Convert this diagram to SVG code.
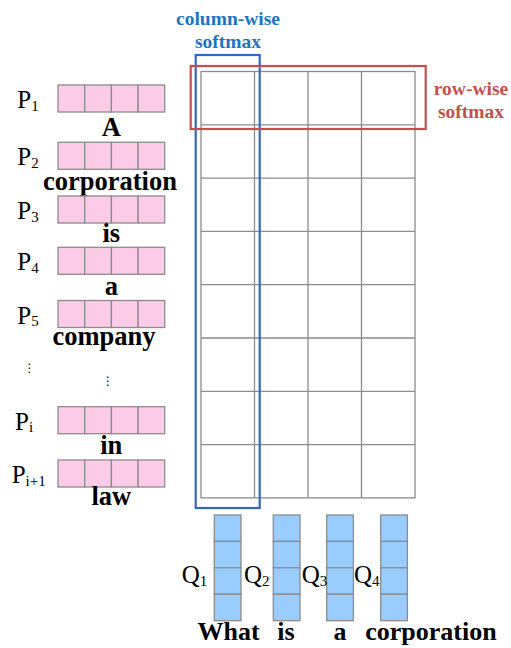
<svg xmlns="http://www.w3.org/2000/svg" width="511" height="648" viewBox="0 0 511 648">
<style>
.pc{fill:#fccbe8;stroke:#8c8c8c;stroke-width:1.3}
.qc{fill:#99ccff;stroke:#8c8c8c;stroke-width:1.3}
.g{fill:none;stroke:#8c8c8c;stroke-width:1.3}
.lbl{font-family:"Liberation Serif","Times New Roman",serif;font-size:25px;fill:#000}
.sub{font-size:15px}
.w{font-family:"Liberation Serif","Times New Roman",serif;font-size:26.5px;font-weight:bold;fill:#000;text-anchor:middle}
.wb{font-family:"Liberation Serif","Times New Roman",serif;font-size:26px;font-weight:bold;fill:#000;text-anchor:middle}
.leg{font-family:"Liberation Serif","Times New Roman",serif;font-size:19.5px;font-weight:bold;text-anchor:middle}
.dots{font-family:"DejaVu Sans",sans-serif;font-size:12px;fill:#000;text-anchor:middle}
</style>
<defs>
<g id="pv">
<rect class="pc" x="0" y="0" width="26.7" height="27"/>
<rect class="pc" x="26.7" y="0" width="26.7" height="27"/>
<rect class="pc" x="53.4" y="0" width="26.7" height="27"/>
<rect class="pc" x="80.1" y="0" width="26.6" height="27"/>
</g>
<g id="qv">
<rect class="qc" x="0" y="0" width="26.7" height="26.4"/>
<rect class="qc" x="0" y="26.4" width="26.7" height="26.4"/>
<rect class="qc" x="0" y="52.8" width="26.7" height="26.4"/>
<rect class="qc" x="0" y="79.2" width="26.7" height="26.5"/>
</g>
</defs>

<g id="grid">
<rect class="g" x="201" y="71.5" width="214" height="426.4"/>
<path class="g" d="M254.5 71.5V497.9M308 71.5V497.9M361.5 71.5V497.9M201 124.8H415M201 178.1H415M201 231.4H415M201 284.7H415M201 338H415M201 391.3H415M201 444.6H415"/>
</g>

<g id="col-softmax">
<rect x="195.7" y="55" width="64" height="453" fill="none" stroke="#3366cc" stroke-width="2.2"/>
<text class="leg" x="228" y="25" fill="#1c75c2">column-wise</text>
<text class="leg" x="228" y="48.3" fill="#1c75c2">softmax</text>
</g>

<g id="row-softmax">
<rect x="190.7" y="66" width="235" height="63" fill="none" stroke="#c4504c" stroke-width="2.2"/>
<text class="leg" x="471" y="95" fill="#c4504c">row-wise</text>
<text class="leg" x="471" y="118.3" fill="#c4504c">softmax</text>
</g>

<g id="p1"><use href="#pv" x="58" y="85"/><text class="lbl" x="17.3" y="108">P<tspan class="sub" dy="2.5">1</tspan></text><text class="w" x="111.3" y="136">A</text></g>
<g id="p2"><use href="#pv" x="58" y="142.3"/><text class="lbl" x="17.3" y="165.3">P<tspan class="sub" dy="2.5">2</tspan></text><text class="w" x="110" y="190">corporation</text></g>
<g id="p3"><use href="#pv" x="58" y="196"/><text class="lbl" x="17.3" y="219">P<tspan class="sub" dy="2.5">3</tspan></text><text class="w" x="111.3" y="241.7">is</text></g>
<g id="p4"><use href="#pv" x="58" y="247.3"/><text class="lbl" x="17.3" y="270.3">P<tspan class="sub" dy="2.5">4</tspan></text><text class="w" x="111.3" y="295">a</text></g>
<g id="p5"><use href="#pv" x="58" y="300.5"/><text class="lbl" x="17.3" y="323.5">P<tspan class="sub" dy="2.5">5</tspan></text><text class="w" x="104" y="345">company</text></g>
<g id="ellipsis"><text class="dots" x="29.5" y="372">⋮</text><text class="dots" x="108" y="385">⋮</text></g>
<g id="pi"><use href="#pv" x="58" y="406.7"/><text class="lbl" x="15" y="429.7">P<tspan class="sub" dy="2.5">i</tspan></text><text class="w" x="111.3" y="454">in</text></g>
<g id="pi1"><use href="#pv" x="58" y="460"/><text class="lbl" x="11.7" y="483">P<tspan class="sub" dy="2.5">i+1</tspan></text><text class="w" x="111.3" y="505">law</text></g>

<g id="q1"><use href="#qv" x="214.3" y="515"/><text class="lbl" x="181.7" y="583">Q<tspan class="sub" dy="2.5">1</tspan></text><text class="wb" x="228.5" y="640">What</text></g>
<g id="q2"><use href="#qv" x="273.3" y="515"/><text class="lbl" x="244" y="583">Q<tspan class="sub" dy="2.5">2</tspan></text><text class="wb" x="286" y="640">is</text></g>
<g id="q3"><use href="#qv" x="326.7" y="515"/><text class="lbl" x="301.7" y="583">Q<tspan class="sub" dy="2.5">3</tspan></text><text class="wb" x="340" y="640">a</text></g>
<g id="q4"><use href="#qv" x="380.7" y="515"/><text class="lbl" x="354" y="583">Q<tspan class="sub" dy="2.5">4</tspan></text><text class="wb" x="431" y="640">corporation</text></g>
</svg>
